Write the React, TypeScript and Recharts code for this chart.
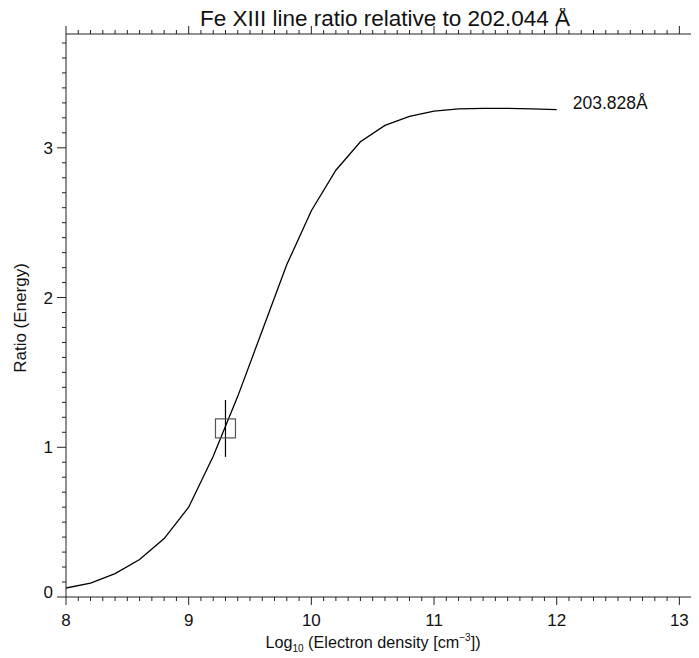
import React from "react";
import {
  LineChart,
  Line,
  XAxis,
  YAxis,
  Scatter,
  ReferenceLine,
  ReferenceDot,
} from "recharts";

// Curve: log10 electron density vs ratio
const densities = [8.0, 8.2, 8.4, 8.6, 8.8, 9.0, 9.2, 9.4, 9.6, 9.8, 10.0, 10.2, 10.4, 10.6, 10.8, 11.0, 11.2, 11.4, 11.6, 11.8, 12.0];
const ratios = [0.06, 0.093, 0.156, 0.25, 0.39, 0.6, 0.94, 1.34, 1.78, 2.22, 2.58, 2.85, 3.04, 3.15, 3.21, 3.245, 3.26, 3.263, 3.263, 3.26, 3.255];

// Observed measurement
const obsDensity = [9.3];
const obsRatio = [1.126];
const obsError = [0.19];

const lineLabel = "203.828Å";
const titleText = "Fe XIII line ratio relative to 202.044 Å";

const xMajorTicks = [8, 9, 10, 11, 12, 13];
const yMajorTicks = [0, 1, 2, 3];
const xDomain: [number, number] = [8, 13.16];
const yDomain: [number, number] = [0, 3.76];

const minorStep = 0.1;
const buildTicks = (lo: number, hi: number) => {
  const out: number[] = [];
  for (let i = Math.round(lo / minorStep); i * minorStep <= hi + 1e-9; i++) {
    out.push(Math.round(i * minorStep * 10) / 10);
  }
  return out;
};
const xTicks = buildTicks(xDomain[0], xDomain[1]);
const yTicks = buildTicks(yDomain[0], yDomain[1]);

const curveData = densities.map((d, i) => ({ x: d, y: ratios[i] }));
const obsData = obsDensity.map((d, i) => ({ x: d, y: obsRatio[i], err: obsError[i] }));

const FONT = "'Liberation Sans', Arial, Helvetica, sans-serif";
const AXIS_COLOR = "#222";

const isMajor = (v: number, majors: number[]) => majors.some((m) => Math.abs(m - v) < 1e-6);

const BottomTick = (props: any) => {
  const { x, y, payload } = props;
  const v = payload.value;
  const major = isMajor(v, xMajorTicks);
  return (
    <g>
      <line x1={x} x2={x} y1={y} y2={y + (major ? 8 : 4)} stroke={AXIS_COLOR} strokeWidth={1} />
      {major && (
        <text x={x} y={y + 29} textAnchor="middle" fontSize={17} fontFamily={FONT} fill="#111">
          {String(v)}
        </text>
      )}
    </g>
  );
};

const TopTick = (props: any) => {
  const { x, y, payload } = props;
  const major = isMajor(payload.value, xMajorTicks);
  return <line x1={x} x2={x} y1={y} y2={y - (major ? 8 : 4)} stroke={AXIS_COLOR} strokeWidth={1} />;
};

const LeftTick = (props: any) => {
  const { x, y, payload } = props;
  const v = payload.value;
  const major = isMajor(v, yMajorTicks);
  return (
    <g>
      <line x1={x} x2={x - (major ? 9 : 4)} y1={y} y2={y} stroke={AXIS_COLOR} strokeWidth={1} />
      {major && (
        <text x={x - 13} y={y + (v === 0 ? 1 : 6)} textAnchor="end" fontSize={17} fontFamily={FONT} fill="#111">
          {String(v)}
        </text>
      )}
    </g>
  );
};

const SquareShape = (props: any) => {
  const { cx, cy } = props;
  if (cx == null || cy == null) return null;
  return <rect x={cx - 10} y={cy - 9.5} width={20} height={19} fill="none" stroke="#555" strokeWidth={1.2} />;
};

const EndLabel = (props: any) => {
  const { viewBox } = props;
  const cx = viewBox.x + (viewBox.width || 0) / 2;
  const cy = viewBox.y + (viewBox.height || 0) / 2;
  return (
    <text x={cx + 16} y={cy - 1} textAnchor="start" fontSize={17.5} fontFamily={FONT} fill="#111">
      {lineLabel}
    </text>
  );
};

export default function App() {
  const last = curveData[curveData.length - 1];
  const obs = obsData[0];
  return (
    <div style={{ marginLeft: -8, marginTop: -8, width: 699, height: 658, background: "#fff", position: "relative" }}>
      <LineChart
        width={699}
        height={658}
        data={curveData}
        margin={{ top: 33, right: 0, bottom: 60, left: 65 }}
      >
        <XAxis
          xAxisId="bottom"
          dataKey="x"
          type="number"
          domain={xDomain}
          ticks={xTicks}
          interval={0}
          orientation="bottom"
          height={1}
          tickSize={0}
          tickMargin={0}
          tickLine={false}
          tick={<BottomTick />}
          axisLine={{ stroke: AXIS_COLOR, strokeWidth: 1 }}
          allowDataOverflow
        />
        <XAxis
          xAxisId="top"
          dataKey="x"
          type="number"
          domain={xDomain}
          ticks={xTicks}
          interval={0}
          orientation="top"
          height={1}
          tickSize={0}
          tickMargin={0}
          tickLine={false}
          tick={<TopTick />}
          axisLine={{ stroke: AXIS_COLOR, strokeWidth: 1 }}
          allowDataOverflow
        />
        <YAxis
          yAxisId="left"
          type="number"
          domain={yDomain}
          ticks={yTicks}
          interval={0}
          width={1}
          tickSize={0}
          tickMargin={0}
          tickLine={false}
          tick={<LeftTick />}
          axisLine={{ stroke: AXIS_COLOR, strokeWidth: 1 }}
          allowDataOverflow
        />
        <Line
          xAxisId="bottom"
          yAxisId="left"
          dataKey="y"
          type="linear"
          stroke="#000"
          strokeWidth={1.3}
          dot={false}
          isAnimationActive={false}
        />
        <ReferenceLine
          xAxisId="bottom"
          yAxisId="left"
          segment={[
            { x: obs.x, y: obs.y - obs.err },
            { x: obs.x, y: obs.y + obs.err },
          ]}
          stroke="#000"
          strokeWidth={1.2}
        />
        <Scatter
          xAxisId="bottom"
          yAxisId="left"
          data={obsData}
          dataKey="y"
          shape={<SquareShape />}
          isAnimationActive={false}
        />
        <ReferenceDot
          xAxisId="bottom"
          yAxisId="left"
          x={last.x}
          y={last.y}
          r={0}
          fill="none"
          stroke="none"
          label={<EndLabel />}
        />
      </LineChart>
      <svg width={699} height={658} style={{ position: "absolute", left: 0, top: 0, pointerEvents: "none" }}>
        <text x={385} y={26} textAnchor="middle" fontSize={22.5} fontFamily={FONT} fill="#111">
          {titleText}
        </text>
        <text x={373} y={648} textAnchor="middle" fontSize={16.2} fontFamily={FONT} fill="#111">
          <tspan>Log</tspan>
          <tspan fontSize={10} dy={4}>10</tspan>
          <tspan dy={-4}> (Electron density [cm</tspan>
          <tspan fontSize={10} dy={-7}>−3</tspan>
          <tspan dy={7}>])</tspan>
        </text>
        <text
          x={26}
          y={318}
          textAnchor="middle"
          fontSize={17}
          fontFamily={FONT}
          fill="#111"
          transform="rotate(-90 26 318)"
        >
          Ratio (Energy)
        </text>
      </svg>
    </div>
  );
}
